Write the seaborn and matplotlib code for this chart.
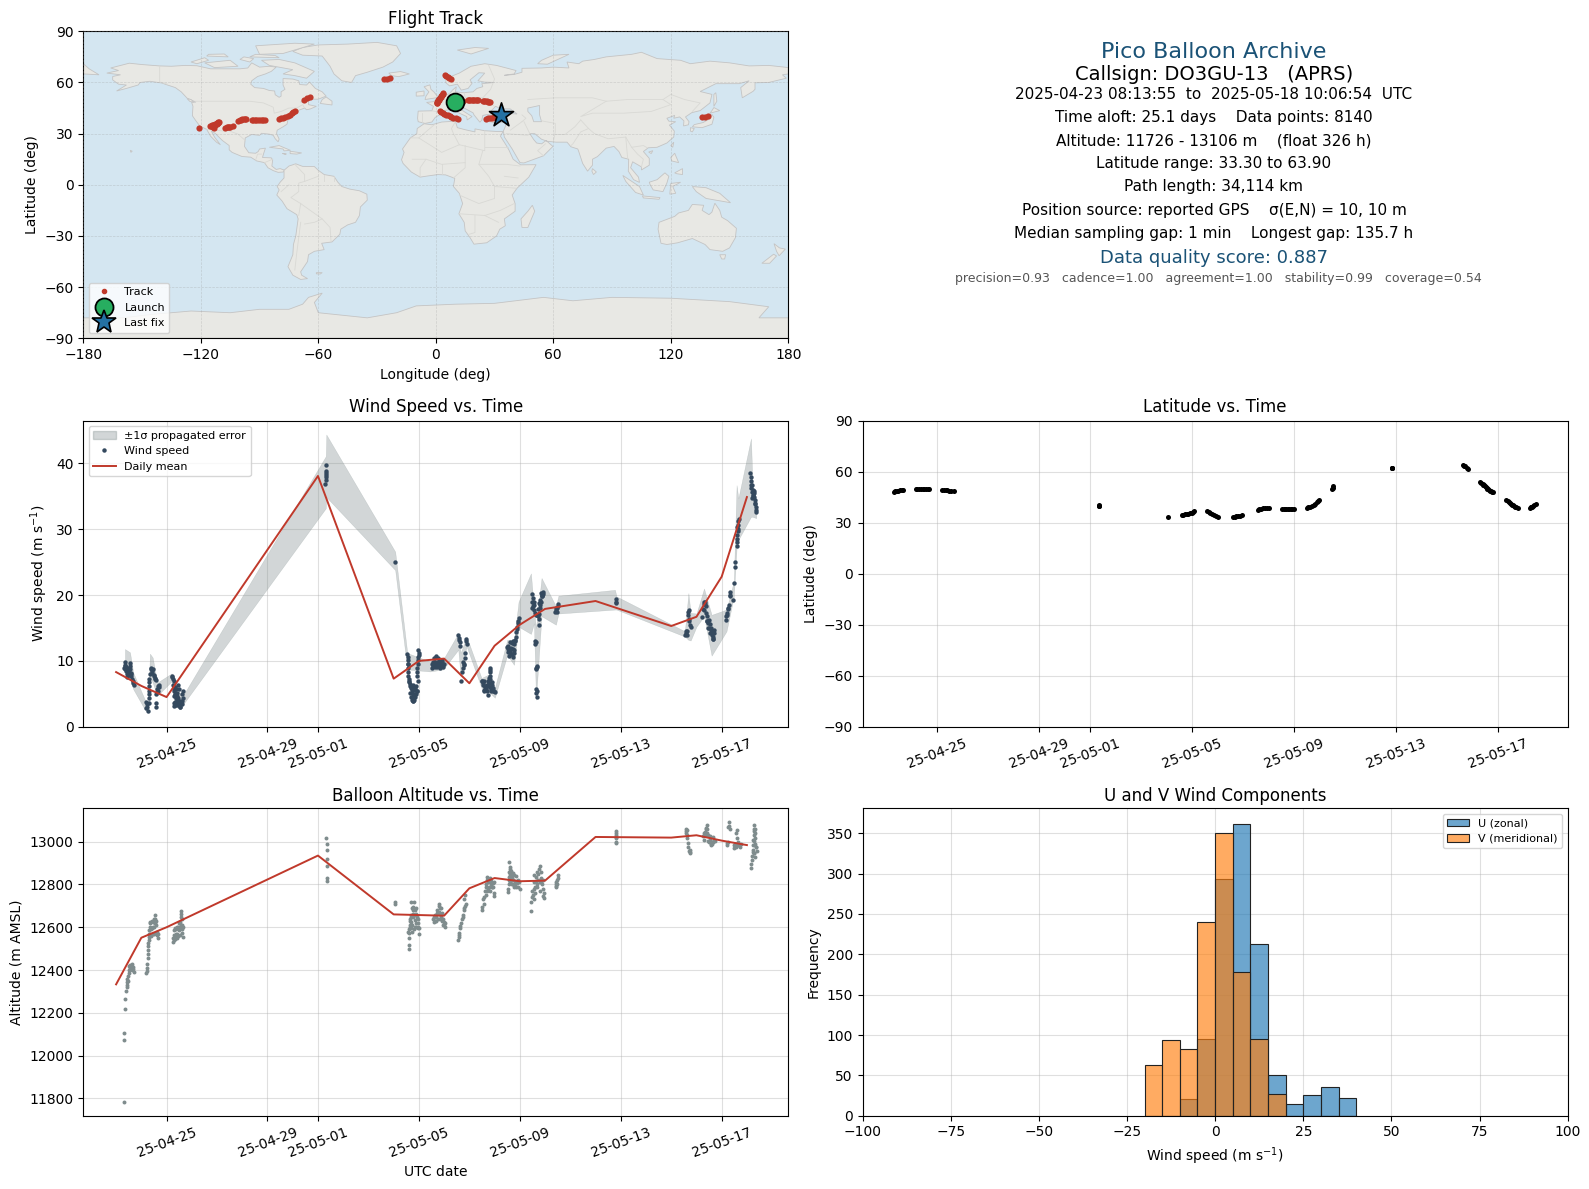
import numpy as np
import pandas as pd
import matplotlib
matplotlib.use("Agg")
import matplotlib.pyplot as plt
import matplotlib.dates as mdates
from matplotlib.lines import Line2D
from matplotlib.patches import Patch
import seaborn as sns

# ---------- data: times are days after 2025-04-23 00:00 UTC ----------
date_ticks = ["2025-04-25", "2025-04-29", "2025-05-01", "2025-05-05", "2025-05-09", "2025-05-13", "2025-05-17"]

wind_days = [.35,.32,.41,.39,.55,.52,.57,.48,.61,.65,.71,.36,.44,.50,.46,.58,
 1.21,1.18,1.25,1.30,1.30,1.30,1.30,1.37,1.41,1.47,1.50,1.54,1.58,1.71,1.64,1.60,1.58,1.67,1.69,
 2.20,2.24,2.26,2.33,2.40,2.46,2.29,2.40,2.46,2.30,2.50,2.60,2.66,2.66,2.60,2.35,2.28,2.37,2.44,2.52,2.31,2.34,2.55,
 8.31,8.31,8.31,8.31,8.29,8.32,8.30,11.06,
 11.54,11.58,11.58,11.58,11.62,11.65,11.71,11.78,11.84,11.75,11.88,11.71,11.81,11.88,11.94,11.94,11.98,11.98,12.02,11.66,11.74,11.82,11.76,11.92,11.96,11.60,11.56,
 12.57,12.67,12.77,12.83,12.96,12.73,12.50,12.90,12.62,12.70,12.86,12.60,12.93,12.80,
 13.56,13.60,13.63,13.87,13.89,13.83,13.76,13.80,13.72,13.67,
 14.52,14.61,14.71,14.82,14.82,14.79,14.88,14.94,15.01,14.68,14.55,14.58,14.65,14.75,14.72,14.85,14.90,
 15.50,15.57,15.66,15.75,15.68,15.77,15.84,15.90,15.96,15.94,15.54,15.60,15.63,15.71,15.80,15.72,
 16.50,16.53,16.47,16.56,16.79,16.73,16.90,16.86,16.69,16.77,16.77,16.62,16.62,16.69,16.64,16.66,16.66,16.70,16.88,16.83,16.52,16.76,
 17.43,17.53,17.46,17.48,
 19.80,19.80,19.83,
 22.68,22.72,22.77,22.58,22.64,22.62,22.70,
 23.30,23.29,23.37,23.23,23.43,23.47,23.56,23.64,23.71,23.33,23.40,23.50,23.52,23.60,23.67,
 24.17,24.22,24.28,24.33,24.46,24.50,24.52,24.54,24.59,24.62,24.59,24.66,24.20,24.25,24.31,24.60,24.64,
 25.14,25.16,25.18,25.24,25.22,25.31,25.35,25.37,25.20,25.26,25.28,25.33]
wind_ms = [9.9,8.9,9.1,8.4,9.7,8.9,8.7,7.9,7.7,6.9,6.4,9.4,7.6,8.2,8.7,8.2,
 3.4,2.9,2.4,3.6,4.9,6.2,7.3,8.9,8.4,8.7,7.9,7.4,7.1,6.3,5.7,5.0,3.6,5.4,6.0,
 7.7,7.3,6.4,5.7,5.1,6.4,4.6,4.1,3.6,3.1,3.4,3.4,4.4,5.4,3.9,4.8,5.5,3.5,4.4,3.9,3.6,6.0,3.0,
 39.7,38.9,38.2,37.5,36.9,37.9,38.5,25.1,
 11.1,10.2,8.9,7.7,6.9,6.2,5.6,6.4,5.6,4.9,4.9,4.1,4.1,6.2,7.7,8.9,10.2,11.7,10.9,5.1,6.2,5.0,3.9,5.4,7.0,7.3,9.5,
 9.2,10.7,10.4,9.2,9.4,9.7,8.9,9.9,9.8,9.0,9.5,9.5,10.2,10.0,
 13.9,13.2,12.3,13.4,12.6,11.2,9.9,9.4,8.3,7.0,
 6.9,6.2,5.4,8.9,7.7,6.6,6.4,5.9,5.2,6.4,6.3,5.6,5.9,6.9,4.8,5.4,6.8,
 12.1,11.4,11.0,11.2,12.7,12.5,13.7,15.2,16.5,16.0,11.3,12.9,11.8,13.0,13.0,10.6,
 20.2,19.5,18.0,18.5,18.5,17.9,20.5,19.8,17.0,16.3,15.5,13.0,12.5,9.3,8.7,5.8,5.1,4.5,20.0,19.0,19.0,17.2,
 17.8,18.3,17.5,18.0,
 19.4,18.8,19.0,
 17.5,16.0,15.2,14.2,14.0,14.6,17.8,
 19.0,17.8,18.3,16.7,16.8,15.7,14.7,13.7,14.3,18.6,16.0,15.0,15.6,14.2,13.4,
 16.2,17.3,18.5,20.4,19.2,21.9,24.2,25.1,27.5,29.1,30.4,31.2,16.9,17.9,20.0,28.5,30.0,
 38.5,37.4,36.2,35.7,34.7,34.4,33.4,32.7,36.8,35.0,35.8,34.0]
wind_days_dense = [.34,.37,.42,.45,.53,.56,.60,.63,.68,
 1.22,1.20,1.30,1.30,1.30,1.33,1.39,1.44,1.52,1.56,1.62,1.66,1.59,
 2.22,2.28,2.30,2.33,2.36,2.38,2.42,2.44,2.48,2.36,2.32,2.56,2.63,2.42,2.52,
 11.55,11.58,11.58,11.60,11.63,11.68,11.72,11.78,11.85,11.69,11.78,11.85,11.91,11.94,11.96,11.98,12.0,11.73,
 12.52,12.55,12.58,12.64,12.66,12.72,12.75,12.78,12.82,12.88,12.94,12.98,12.65,12.85,
 13.58,13.61,13.88,13.81,13.79,13.74,
 14.50,14.54,14.57,14.60,14.63,14.67,14.70,14.74,14.77,14.80,14.82,14.81,14.83,14.86,14.92,14.98,
 15.52,15.55,15.58,15.62,15.65,15.70,15.73,15.78,15.81,15.86,15.88,15.92,
 16.49,16.51,16.55,16.58,16.60,16.63,16.75,16.80,16.84,16.81,16.89,16.92,16.72,16.63,16.65,16.68,16.67,
 17.41,17.44,17.50,
 22.66,22.69,22.75,22.60,22.56,
 23.31,23.27,23.35,23.39,23.42,23.46,23.49,23.53,23.58,23.62,23.66,23.69,
 24.18,24.24,24.32,24.60,24.63,24.65,24.68,
 25.15,25.17,25.19,25.23,25.27,25.30,25.34,25.36,25.25]
wind_ms_dense = [9.3,8.7,8.5,8.0,8.3,9.2,8.0,7.3,6.6,
 3.0,3.8,4.3,5.5,6.8,8.0,8.7,8.1,7.7,7.2,5.3,6.2,3.0,
 7.5,6.9,5.8,5.0,4.3,5.8,4.7,3.3,5.8,3.3,3.8,3.6,4.9,3.4,3.0,
 10.6,9.5,8.3,6.8,6.5,5.9,5.1,4.5,4.5,4.5,3.9,5.9,5.5,8.3,9.5,10.6,11.2,6.1,
 9.5,9.9,10.4,10.5,9.3,9.2,9.9,9.6,9.9,9.6,9.1,9.6,9.0,8.9,
 13.5,12.8,13.0,10.5,9.6,8.9,
 7.0,6.6,6.9,5.5,6.0,5.6,6.2,6.3,7.4,8.3,8.6,7.2,6.0,5.8,5.5,5.4,
 11.8,12.2,10.8,11.5,12.0,11.0,11.8,11.7,13.1,14.4,14.9,15.8,
 19.0,18.3,19.0,17.8,17.3,17.0,18.8,19.3,20.3,18.0,19.9,20.2,16.8,12.8,8.9,9.0,5.5,
 17.5,18.1,18.6,
 17.0,16.4,15.5,14.5,14.0,
 18.6,17.9,19.0,17.3,16.0,15.0,16.2,14.2,15.0,14.0,13.4,14.7,
 16.8,18.0,19.8,28.0,29.7,30.7,31.5,
 38.0,36.8,35.6,35.2,34.9,35.5,33.8,33.0,36.0]

band_days = [.35,.55,.68,1.14,1.27,1.34,1.45,1.63,2.20,2.33,2.60,8.31,8.33,11.06,11.54,12.44,12.96,13.56,13.65,13.89,14.48,14.75,15.01,15.50,15.77,15.95,16.44,16.56,16.64,16.86,17.43,17.53,19.77,19.83,22.54,22.68,22.77,23.00,23.30,23.60,24.19,24.48,24.59,24.66,25.16,25.22,25.37]
band_lo = [8.2,7.2,5.7,2.6,2.1,7.7,6.7,4.7,6.9,2.9,3.1,33.2,34.9,23.8,8.7,8.4,8.7,11.7,7.7,12.2,5.9,5.4,4.4,10.9,9.4,15.2,14.1,15.7,4.1,16.8,15.5,17.2,17.8,17.8,13.7,13.2,13.1,15.2,16.8,10.8,14.5,19.8,27.1,28.4,31.9,31.9,31.7]
band_hi = [11.8,11.3,8.2,4.1,3.6,11.1,10.5,6.7,8.1,6.9,4.4,41.1,44.4,26.6,11.2,9.9,10.2,14.2,11.2,13.7,7.4,7.9,5.9,13.2,13.2,19.0,23.3,17.8,15.0,22.6,18.3,19.9,20.8,19.8,14.5,20.3,17.3,17.2,21.0,17.0,17.8,22.1,36.7,34.7,43.8,37.0,33.7]

mean_days = [0,1,2,8,11,12,13,14,15,16,17,19,22,23,24,25]
wind_mean = [8.3,6.2,4.5,38.1,7.3,10.0,10.35,6.6,12.3,15.5,17.9,19.1,15.3,16.7,22.8,34.9]
alt_mean = [12333,12551,12600,12935,12660,12657,12654,12782,12830,12815,12818,13022,13019,13030,13005,12984]

track_days = [.32,.38,.44,.50,.56,.63,.70,
 1.19,1.25,1.32,1.39,1.46,1.52,1.58,1.65,1.72,
 2.23,2.29,2.35,2.42,2.49,2.58,2.67,
 8.37,8.37,8.37,11.09,
 11.61,11.67,11.73,11.80,11.86,11.93,12.0,12.04,12.08,
 12.61,12.67,12.73,12.80,12.87,12.96,13.05,
 13.61,13.68,13.75,13.82,13.89,13.96,
 14.59,14.65,14.71,14.80,14.89,14.96,15.03,
 15.55,15.60,15.66,15.71,15.76,15.82,15.89,15.95,16.02,
 16.51,16.57,16.64,16.71,16.78,16.84,16.9,16.95,17.0,
 17.51,17.53,17.55,19.87,19.87,19.87,
 22.64,22.69,22.73,22.78,22.82,
 23.32,23.36,23.40,23.43,23.46,23.49,23.52,23.56,23.59,23.63,23.66,23.69,23.72,23.76,23.81,
 24.34,24.38,24.43,24.47,24.52,24.56,24.6,24.64,24.69,24.73,24.78,
 25.25,25.29,25.32,25.36,25.39,25.43,25.48]
track_lat = [48.2,48.4,48.6,48.8,49.0,49.2,49.4,
 50.0,50.0,50.0,50.0,50.0,50.0,50.0,50.0,50.0,
 49.4,49.3,49.2,49.0,48.8,48.8,48.8,
 39.6,40.0,40.4,33.5,
 34.3,34.6,34.9,35.1,35.3,35.6,35.9,36.3,36.7,
 36.7,36.1,35.5,34.9,34.3,33.8,33.3,
 33.5,33.6,33.7,33.9,34.1,34.7,
 37.6,37.9,38.2,38.5,38.8,38.8,38.8,
 38.2,38.2,38.2,38.2,38.2,38.2,38.2,38.2,38.2,
 38.8,39.0,39.2,39.7,40.2,41.2,42.2,42.6,43.1,
 50.0,50.7,51.4,62.0,62.3,62.4,
 64.1,63.6,63.1,62.4,61.8,
 53.9,53.4,52.9,52.4,52.0,51.5,51.0,50.5,50.0,49.6,49.2,48.9,48.6,48.2,47.8,
 43.5,42.9,42.2,41.7,41.2,40.7,40.2,39.8,39.4,39.0,38.6,
 38.8,39.0,39.2,39.4,39.6,40.2,40.8]
track_lon = [10.0,10.6,11.2,11.8,12.5,13.2,14.0,
 16.3,17.0,17.6,18.3,19.0,19.6,20.3,21.0,21.7,
 24.3,24.8,25.2,25.9,26.5,27.1,27.7,
 135.8,137.4,139.0,-120.9,
 -115.5,-115.0,-114.5,-113.8,-113.0,-112.2,-111.5,-111.0,-110.5,
 -111.0,-111.7,-112.5,-113.2,-114.0,-114.0,-113.5,
 -107.6,-106.8,-106.0,-105.5,-105.0,-103.7,
 -100.8,-100.1,-99.5,-98.8,-98.0,-97.4,-96.9,
 -94.0,-93.3,-92.5,-91.8,-91.0,-90.0,-89.0,-88.0,-87.2,
 -79.9,-79.0,-78.0,-76.8,-75.5,-74.5,-73.5,-72.7,-71.9,
 -67.1,-65.6,-64.2,-26.4,-25.0,-23.5,
 4.7,5.3,6.0,6.8,7.6,
 3.9,3.6,3.3,3.0,2.7,2.4,2.0,1.7,1.5,1.3,1.1,0.9,0.8,0.6,0.5,
 2.2,2.8,3.5,4.2,5.0,6.0,7.0,8.0,9.0,10.2,11.5,
 25.7,26.6,27.5,28.5,29.5,31.5,33.5]
launch_lon, launch_lat = [10.0], [48.4]
last_lon, last_lat = [33.5], [40.9]

alt_days = [.32,.32,.32,.37,.37,.41,.42,.44,.48,.51,.55,.57,.62,.65,.69,
 1.20,1.22,1.26,1.27,1.27,1.31,1.31,1.36,1.40,1.43,1.49,1.54,1.58,1.61,1.68,1.38,1.45,1.52,1.56,
 2.25,2.28,2.32,2.37,2.42,2.50,2.55,2.58,2.60,2.67,2.35,2.45,2.53,2.63,2.30,
 8.30,8.34,8.34,8.34,8.34,8.34,8.34,11.06,11.06,
 11.59,11.59,11.59,11.58,11.63,11.70,11.70,11.75,11.70,11.81,11.88,11.93,11.98,12.02,11.84,11.63,11.66,11.78,11.90,11.80,11.95,
 12.55,12.64,12.73,12.81,12.87,12.90,12.94,12.99,13.04,12.67,12.78,12.84,12.60,
 13.56,13.58,13.61,13.66,13.75,13.79,13.86,13.82,
 14.51,14.58,14.64,14.67,14.71,14.78,14.85,14.94,14.99,14.99,14.74,14.82,14.90,
 15.52,15.56,15.59,15.59,15.65,15.70,15.77,15.82,15.91,16.0,15.62,15.68,15.75,15.60,15.86,
 16.46,16.46,16.53,16.58,16.58,16.65,16.73,16.80,16.83,16.88,16.94,16.94,16.62,16.70,16.78,
 17.42,17.45,17.50,17.52,
 19.81,19.81,19.81,19.81,
 22.60,22.60,22.64,22.67,22.73,22.76,
 23.26,23.35,23.40,23.43,23.52,23.56,23.61,23.70,23.38,23.47,23.58,
 24.28,24.32,24.23,24.50,24.62,24.62,24.73,24.60,24.55,
 25.17,25.20,25.26,25.29,25.29,25.32,25.38,25.32,25.26,25.30,25.35,25.28]
alt_m = [11785,12075,12105,12220,12265,12300,12320,12345,12370,12385,12425,12410,12430,12415,12390,
 12385,12410,12455,12495,12525,12555,12585,12620,12565,12595,12625,12655,12610,12580,12550,12590,12570,12600,12640,
 12530,12565,12595,12570,12600,12585,12625,12675,12640,12555,12545,12560,12600,12610,12540,
 13015,12990,12960,12920,12885,12830,12815,12720,12710,
 12500,12515,12550,12580,12600,12625,12655,12680,12720,12720,12690,12650,12620,12570,12635,12640,12610,12660,12600,12590,12640,
 12640,12655,12680,12710,12690,12665,12640,12625,12600,12630,12660,12640,12650,
 12540,12565,12595,12620,12655,12690,12710,12750,
 12680,12710,12750,12790,12835,12815,12800,12805,12760,12745,12780,12770,12790,
 12765,12800,12835,12905,12865,12830,12845,12815,12820,12780,12870,12800,12790,12850,12790,
 12675,12720,12750,12780,12845,12815,12850,12885,12830,12800,12760,12735,12790,12800,12810,
 12795,12810,12830,12845,
 13050,13030,13015,12995,
 13060,13040,13015,12975,12945,12960,
 13025,13045,13080,13040,13025,12985,13000,13010,13060,13005,12990,
 13090,13060,12985,12970,13055,13015,12975,12985,12975,
 12875,12915,12960,13080,13030,12990,12955,12930,13010,13060,12975,12945]
alt_days_dense = [.45,.47,.43,.50,.53,.60,.64,.67,
 1.21,1.24,1.26,1.27,1.29,1.30,1.33,1.35,1.38,1.42,1.47,1.50,1.52,1.55,1.57,1.60,1.63,1.66,1.34,1.45,
 2.26,2.30,2.33,2.38,2.41,2.44,2.48,2.52,2.56,2.58,2.60,2.62,2.65,2.57,2.42,
 11.60,11.62,11.65,11.68,11.72,11.74,11.76,11.78,11.82,11.85,11.87,11.90,11.95,11.96,12.0,11.72,11.68,11.86,
 12.58,12.62,12.66,12.70,12.75,12.78,12.80,12.83,12.86,12.92,12.96,13.0,13.02,
 13.57,13.60,13.63,13.70,13.73,13.77,13.80,13.84,
 14.52,14.55,14.60,14.62,14.65,14.69,14.72,14.76,14.80,14.84,14.88,14.92,14.96,14.70,
 15.54,15.57,15.60,15.61,15.63,15.66,15.68,15.72,15.74,15.79,15.84,15.88,15.93,15.97,15.58,
 16.48,16.50,16.55,16.57,16.60,16.63,16.67,16.70,16.74,16.76,16.79,16.82,16.85,16.90,16.92,16.93,
 17.43,17.47,17.49,17.44,
 19.80,19.82,19.80,
 22.58,22.62,22.61,22.65,22.70,22.74,
 23.28,23.30,23.33,23.37,23.42,23.45,23.50,23.54,23.60,23.66,23.72,23.64,
 24.25,24.27,24.30,24.22,24.48,24.52,24.58,24.64,24.66,24.70,24.75,
 25.18,25.22,25.24,25.27,25.28,25.31,25.33,25.36,25.30,25.25,25.34]
alt_m_dense = [12360,12350,12330,12400,12420,12420,12400,12405,
 12395,12430,12475,12510,12540,12570,12600,12570,12560,12630,12600,12570,12640,12620,12575,12630,12565,12570,12625,12625,
 12550,12585,12560,12590,12550,12600,12620,12565,12650,12610,12590,12575,12600,12660,12570,
 12590,12575,12630,12650,12690,12610,12650,12695,12655,12680,12620,12660,12595,12600,12595,12580,12595,12600,
 12625,12630,12650,12665,12640,12700,12670,12690,12650,12630,12610,12610,12620,
 12555,12575,12605,12640,12650,12680,12730,12700,
 12695,12730,12740,12770,12800,12820,12810,12790,12830,12815,12790,12790,12810,12770,
 12780,12820,12880,12840,12810,12840,12800,12855,12820,12800,12840,12805,12790,12810,12860,
 12740,12770,12730,12810,12760,12835,12790,12860,12820,12870,12770,12860,12810,12780,12820,12745,
 12800,12820,12800,12790,
 13040,13020,13000,
 13050,13030,13055,12995,12955,12950,
 13010,13040,13030,13065,13060,13030,13000,13010,12990,13000,13005,13020,
 13000,13070,13075,12995,12985,12990,13040,13000,12985,12985,12990,
 12895,12935,12985,13050,13005,13060,13015,12975,12945,12950,13040]

bin_edges = [-20,-15,-10,-5,0,5,10,15,20,25,30,35,40]
u_counts = [0,0,21,95,293,362,213,51,14,26,36,22]
v_counts = [63,94,83,240,350,178,95,27,0,0,0,0]

# ---------- land outlines (lon, lat) ----------
land_polys = [
 [(-168,65.5),(-164,66.5),(-162,67),(-166,68.5),(-156.5,71.3),(-150,70.5),(-141,69.7),(-135,69.5),(-128,70),(-122,69.8),(-115,68),(-108,68),(-100,68),(-96,68.5),(-94,71.5),(-90,69),(-85,69.5),(-81.5,69),(-84,66.5),(-87,65),(-91,63.5),(-94,61),(-94.5,59),(-92.5,57),(-88,56.5),(-85,55.3),(-82.3,55),(-82,52.8),(-80,51.3),(-79,52),(-79,54.5),(-77,56),(-78,58.5),(-78,62.3),(-73,62),(-70,61),(-69.5,58.8),(-66,58.5),(-64.5,60.3),(-61.5,56.5),(-58,54.5),(-56,52),(-60,50.2),(-66,50.2),(-69,48.5),(-65,49),(-65,47),(-61,46),(-64,44.5),(-66,44),(-67,45),(-70,43.7),(-70.5,42),(-74,40.6),(-75.5,38),(-76,35.5),(-78,34),(-81,32),(-81.3,30),(-80,26.8),(-80.5,25.2),(-82,27),(-83,29),(-85,29.7),(-89,30.2),(-90,29),(-94,29.5),(-97.3,27.5),(-97.7,22.5),(-95.5,18.8),(-92,18.5),(-90.7,19.5),(-90,21),(-87,21.5),(-88,18),(-88.5,16),(-84,15.8),(-83.3,14.5),(-83.7,11),(-81.5,9),(-79.5,9.5),(-77.3,8.6),(-77.8,7.5),(-80.5,7.3),(-83,8.3),(-85.7,10),(-87.5,13),(-91.5,14),(-94.5,16.2),(-99,16.6),(-104,19),(-105.5,20.5),(-105.5,23),(-109,26),(-112.5,30),(-114.7,31.7),(-113,28),(-110,23.5),(-112,25),(-115,28.5),(-117,32.5),(-120.5,34.5),(-122.5,37.5),(-124.3,40.5),(-124,46),(-124.7,48.4),(-122.5,48.5),(-127,50.8),(-130,54.5),(-133,57),(-137,58.5),(-140,59.7),(-146,60.7),(-151,60),(-152,58.5),(-158,56.5),(-163,55),(-158,58.5),(-162,59),(-165,61.5),(-165,63.5),(-161,64.5)],
 [(-73,78.2),(-68,80.5),(-60,82),(-45,82.5),(-30,83.5),(-20,81.5),(-18,77),(-22,72),(-27,69),(-35,66),(-41,64),(-43,60),(-48,61),(-52,65),(-54,69.5),(-58,75.5),(-68,76)],
 [(-80,73.5),(-72,71.5),(-67,69),(-62,66.5),(-66,62.5),(-72,64),(-78,65),(-73,67.5),(-85,70),(-89,73)],
 [(-118,71.5),(-105,73),(-101,69.5),(-113,68.7)],
 [(-125,72),(-118,74.5),(-116,73),(-122,71)],
 [(-90,76.5),(-78,77),(-62,82.5),(-72,83),(-92,81.5)],
 [(-95,75),(-80,74.5),(-82,75.8),(-92,76.5)],
 [(-117,75.5),(-106,75),(-108,76.7),(-116,76.5)],
 [(-100,73.5),(-95,72),(-93,74),(-98,75)],
 [(-59,47.7),(-53,46.8),(-53,49),(-56,51.5),(-58,50)],
 [(-85,22),(-80,23),(-74.2,20.2),(-77.5,19.9),(-78,21)],
 [(-74.4,19.7),(-68.5,18.7),(-71,18),(-74.4,18.3)],
 [(-78.3,18.4),(-76.3,18.1),(-77,17.8)],
 [(-156,20.2),(-155,19.7),(-155.7,19)],
 [(-127,50.5),(-125,50),(-123.5,48.5),(-125.5,48.8)],
 [(-61,-51.5),(-58,-51.5),(-59,-52.3),(-61,-52.2)],
 [(-77.5,8.5),(-75,11),(-71.5,12.3),(-68,10.8),(-62,10.7),(-60,8.5),(-57,6),(-52,5),(-50,1.5),(-48,-1),(-44,-2.5),(-39,-3.5),(-35.2,-5.5),(-35,-9),(-38.5,-13),(-39,-18),(-41,-22),(-45,-23.5),(-48.5,-26),(-49,-29),(-53,-33.5),(-58.3,-34.3),(-57,-38),(-62,-39),(-65,-41),(-65.5,-45),(-69,-51),(-68.5,-53),(-65.5,-55),(-69,-55.5),(-73,-53),(-75.5,-48),(-73,-41),(-72.7,-35),(-71.5,-30),(-70.3,-20),(-71,-17.5),(-76,-14),(-78.5,-9.5),(-81.2,-6),(-80,-3),(-81,-1),(-79.5,1.5),(-77.5,4),(-77.5,7)],
 [(-6,35.8),(-2,35.2),(3,36.8),(10,37.3),(11,33.5),(15,32.3),(20,31),(20,32.8),(25,31.7),(32,31.2),(34.3,31.2),(33,28.5),(35.5,24),(37.3,20.5),(39.5,15),(43.3,11.7),(51.2,11.8),(47.5,4.5),(41.5,-2),(39,-6),(40.5,-11),(40.5,-15.5),(35,-20),(35.5,-24),(32.7,-26),(31,-30),(26,-34),(19.5,-34.8),(17.5,-31),(15,-27),(14.5,-22),(11.8,-17),(13.7,-11),(12,-5),(9,-1),(9.7,3.8),(5,5.8),(1,6),(-4,5.2),(-8,4.5),(-12.5,7.5),(-16.7,12.5),(-17.5,14.7),(-16.2,19),(-17,21),(-13,27.5),(-9.7,30),(-9.5,33)],
 [(-9,37),(-9.3,39),(-9,43.2),(-2,43.4),(-1.2,46),(-4.7,48.3),(-1.5,48.7),(1.5,50.5),(4,52),(7,53.5),(8.5,55.5),(10.5,57.5),(10,54.5),(14,54),(19,54.5),(21,56.5),(24,57.5),(23.5,59.3),(30,60),(25,60.2),(21.5,61),(25,65.5),(22,65.7),(17.5,61.5),(18.5,59.5),(16.5,56.5),(13,55.5),(11,59),(7,58),(5,60),(5.5,62.5),(12,65.5),(18,69.5),(25,71),(31,70),(41,67),(40,65),(35,64.2),(40,64.7),(44,66),(44,68.3),(54,68.5),(60,69),(68,68.5),(67,72),(73,71),(75,72.5),(81,73.5),(87,75),(100,76.5),(105,77.7),(113,74),(125,73),(130,71),(140,72.5),(150,71.5),(160,69.7),(170,70),(178,69),(180,68.7),(180,65),(177,64.5),(179,62.5),(170,60),(163,59.8),(163,56),(162,54.8),(156.5,51),(155.7,57),(160,61),(155,59.3),(143,59.3),(135,54.7),(141,53),(140,48),(135,43.5),(130.7,42.3),(127.5,39.8),(129.3,37),(129,35.2),(126.5,34.5),(126.7,37.5),(124.5,39.8),(121.5,39),(122,40.7),(118,39),(119,37.3),(122.5,37),(119.3,35),(121.8,31.5),(121.5,28),(118,24.5),(113,22),(108.5,21.7),(106,19.5),(109,15.5),(109,11.5),(105,8.7),(105,10.5),(100.5,13.5),(99.5,10),(103.5,4.5),(104,1.4),(101,3),(98.3,8),(98.5,15),(95,16),(93.5,19.5),(91,22.5),(87,21.5),(82.5,16.5),(80,15),(80,11.5),(77.5,8),(75,12.5),(73,19.5),(72.5,21),(69,22.3),(67,25),(61.5,25),(57,25.5),(54,26.7),(50.5,30),(48,30),(50,26.5),(51.5,24.5),(54,24),(56.3,26),(59.8,22.5),(55,17),(45,12.8),(43,13),(39,21),(35,28),(34.5,31.5),(36,35.5),(36,36.7),(30.5,36.3),(27.5,37),(26.5,39.5),(29,41),(35,42),(41.5,41.5),(38,44.5),(33.5,44.5),(30.5,46),(28,43),(28,41.5),(24,40.7),(23.5,38),(22.5,36.7),(19.5,41),(19,42.2),(13.7,45.5),(12.3,44.5),(16,41.8),(18.5,40),(16,38),(15.8,40),(12,42),(8.8,44.4),(4,43.5),(3,41.8),(-0.3,39.5),(-2,36.8),(-5.5,36)],
 [(-5.5,50),(1.3,51.2),(-1,54.5),(-2.5,56),(-3,58.6),(-6,57.5),(-3.5,54.5),(-5,52)],
 [(-10,52),(-6,52.2),(-6,55),(-10,54.3)],
 [(-24,65.5),(-18,66.4),(-13.5,65),(-19,63.4),(-22.5,64)],
 [(11,79),(20,80.5),(27,80),(18,76.7)],
 [(52,71),(57,70.7),(68,76.5),(60,76),(54,73)],
 [(142,46),(143.5,49),(143,54),(142,53)],
 [(140,42),(145,43.5),(142,45.3),(141,43.5)],
 [(131,34),(136,33.5),(141,35.5),(142,39.5),(141,41.3),(139.5,38.5),(136.5,36.5),(132,35.3)],
 [(130,33.5),(132,33),(131,31),(130,31.5)],
 [(120,23),(121.5,25),(121,22)],
 [(108.7,19.2),(110.8,20),(110,18.3)],
 [(80,9.5),(82,7.5),(80.5,6),(79.7,8)],
 [(95.5,5.5),(104,-1),(106,-6),(102,-4.5),(97,2)],
 [(105.5,-6.5),(114.5,-7.5),(114,-8.5),(106,-7.7)],
 [(109,1.5),(113,3),(117,7),(119,5),(118,1),(116,-4),(111,-3),(109.5,0)],
 [(119.5,-5.5),(120,0.8),(125,1.5),(121,-1),(122.5,-5)],
 [(120,16),(122,18.5),(124,13),(120.5,14)],
 [(122,7),(126,9.5),(126,6),(123,6.5)],
 [(131,-1),(138,-1.7),(145,-5),(150.5,-10.5),(143,-9),(138,-8),(133,-4)],
 [(114,-22),(113.5,-26),(115,-34.3),(118,-35),(123.5,-34),(131,-31.5),(137.5,-35),(140,-38),(146.5,-39),(150,-37),(153,-31),(153.5,-25.5),(149,-21),(146,-19),(145,-15),(142.5,-10.8),(141,-16),(139.5,-17.5),(136,-15),(136.8,-12),(131,-11.5),(129,-15),(124,-16.5),(122,-18.5)],
 [(145,-41),(148,-41),(147.5,-43.5),(146,-43.5)],
 [(172.7,-34.5),(175.5,-37),(178.5,-37.7),(175.3,-41.6),(174,-39)],
 [(172.5,-40.7),(174,-41.7),(170.5,-46),(166.5,-46)],
 [(49.3,-12),(50.5,-15.5),(47,-25),(44,-25),(43.5,-20),(47,-15.5)],
 [(-180,-90),(180,-90),(180,-78),(165,-78),(170,-71.5),(150,-68.5),(120,-66.5),(90,-66),(70,-68),(55,-66),(30,-69.5),(10,-70),(-10,-71),(-20,-75),(-35,-78),(-60,-75),(-62,-69),(-58,-63.5),(-65,-66),(-68,-70),(-75,-73),(-90,-73),(-105,-75),(-125,-74),(-145,-76),(-160,-78),(-180,-78)],
 [(-180,71),(-177,68),(-172,64.5),(-180,65)],
]
caspian = [(47,45),(53,46.5),(53,41),(54,37),(50,37),(49,40.5),(47,43)]
border_lines = [
 [(-123,49),(-95,49),(-88,48),(-83,45.5),(-82.5,42),(-79,43),(-75,45),(-71,45),(-68,47),(-67,45)],
 [(-117,32.5),(-108,31.5),(-106,31.8),(-101,29.7),(-97.3,26)],
 [(-141,69.7),(-141,60.3),(-137,59)],
 [(-92,14.5),(-91,18),(-89,18)],[(-83.3,15),(-87.5,13)],
 [(-70,-18),(-69,-11),(-74,-7.5),(-70,-4),(-70,1),(-67,2),(-60,5)],
 [(-69,-11),(-58,-20),(-54,-25),(-53.5,-33)],
 [(-69,-22),(-71,-40),(-72,-50)],[(-58,-20),(-62,-22),(-67,-23)],
 [(-75,0),(-79,-4)],[(-72,12),(-67,6),(-67,2)],[(-57,2),(-57,6)],[(-52,2),(-52,5)],
 [(-13,27.5),(-8.7,27.5),(3,19),(12,23.5),(25,20),(25,31.7)],[(25,22),(37,22)],
 [(10,37),(8,33),(9,30),(12,23.5)],[(15,23),(15,10),(9,4)],[(3,12),(3,6.5)],
 [(24,20),(22,12),(27,5),(30,-1),(30,-8),(22,-11),(12,-6)],[(30,-1),(41,-2)],[(35,5),(42,4)],
 [(12,-17),(25,-18),(33,-15),(40,-11)],[(20,-18),(20,-28),(17,-29)],[(25,-18),(32,-22)],
 [(-12,15),(-5,15),(3,12),(15,13)],[(-8,4.5),(-8,10),(-5,15)],[(22,12),(36,12),(43,11)],[(-1,35),(-8.7,27.5)],
 [(27,70),(30,62),(28,56),(24,51),(30,46)],
 [(47,50),(61,51),(80,51),(87,49),(98,50),(116,50),(120,53),(127,50),(135,48),(131,43)],
 [(87,49),(74,40),(80,42),(96,42),(110,43),(120,47),(116,50)],
 [(74,38),(78,33),(81,30),(88,27),(97,28),(100,22),(106,23),(108,21.7)],
 [(60,25),(61,31),(61,36),(54,37.5)],[(74,38),(71,34),(66,29.5),(61,29.5)],
 [(78,33),(74,31),(70,24),(69,23)],[(36,30),(47,29),(48,30)],[(44,37),(46,39),(44,41)],
 [(-2,43.4),(3,42.3)],[(3,50.5),(8,49),(7.5,44)],[(6,51),(7,53.5)],[(14.5,54),(15,51),(24,51)],
 [(-7,42),(-7,37)],[(97,28),(98,15)],[(100,22),(103,18),(106,15),(105,10.5)],
 [(38,32),(44,37)],[(45,37),(48,30)],[(55,17),(52,20),(56,24)],[(28,41.5),(35,37)],
]

# ---------- figure ----------
W, H = 1589, 1189
def place(l, t, r, b):
    return [l / W, 1 - b / H, (r - l) / W, (b - t) / H]

fig = plt.figure(figsize=(W / 100, H / 100), dpi=100, facecolor="white")
ax_map = fig.add_axes(place(83.3, 31.3, 788.3, 338.3))
ax_txt = fig.add_axes(place(862.5, 31.3, 1567.7, 338.3))
ax_wind = fig.add_axes(place(83.3, 420.7, 788.3, 726.7))
ax_lat = fig.add_axes(place(862.5, 420.7, 1567.7, 726.7))
ax_alt = fig.add_axes(place(83.3, 808.3, 788.3, 1115.7))
ax_hist = fig.add_axes(place(862.5, 808.3, 1567.7, 1115.7))

RED = "#c0392b"
NAVY = "#34495e"
GREY = "#7f8c8d"
TITLE_BLUE = "#1a5276"
epoch = pd.Timestamp("2025-04-23")
def to_dates(days):
    return epoch + pd.to_timedelta(np.asarray(days, dtype=float), unit="D")
def date_axis(ax, lo, hi):
    ax.set_xlim(mdates.date2num(to_dates([lo])[0]), mdates.date2num(to_dates([hi])[0]))
    ax.set_xticks(mdates.date2num(pd.to_datetime(date_ticks)))
    ax.xaxis.set_major_formatter(mdates.DateFormatter("%y-%m-%d"))
    ax.tick_params(axis="x", labelrotation=20)
    ax.grid(True, color="#b0b0b0", lw=0.8, alpha=0.4)
    ax.set_xlabel("")

# map
ax_map.set_facecolor("#d4e6f1")
for poly in land_polys:
    lon, lat = zip(*poly)
    ax_map.fill(lon, lat, facecolor="#e8e8e4", edgecolor="#c4c4c4", lw=0.6, zorder=1)
lon, lat = zip(*caspian)
ax_map.fill(lon, lat, facecolor="#d4e6f1", edgecolor="#c4c4c4", lw=0.6, zorder=1.1)
for line in border_lines:
    lon, lat = zip(*line)
    ax_map.plot(lon, lat, color="#d9d9d5", lw=0.6, zorder=1.2)
ax_map.grid(True, color="#9a9a9a", lw=0.5, ls="--", alpha=0.35, zorder=1.5)
ax_map.set_axisbelow(False)
sns.scatterplot(x=track_lon, y=track_lat, ax=ax_map, color=RED, s=20, linewidth=0, zorder=3, legend=False)
sns.scatterplot(x=launch_lon, y=launch_lat, ax=ax_map, color="#27ae60", s=165, edgecolor="black", linewidth=1.3, zorder=4, legend=False)
sns.scatterplot(x=last_lon, y=last_lat, ax=ax_map, color="#2471a3", marker="*", s=330, edgecolor="black", linewidth=1.2, zorder=5, legend=False)
ax_map.set_xlim(-180, 180); ax_map.set_ylim(-90, 90)
ax_map.set_xticks(range(-180, 181, 60)); ax_map.set_yticks(range(-90, 91, 30))
ax_map.set_xlabel("Longitude (deg)"); ax_map.set_ylabel("Latitude (deg)")
ax_map.set_title("Flight Track", pad=5)
map_handles = [
    Line2D([], [], ls="none", marker="o", ms=3, color=RED, label="Track"),
    Line2D([], [], ls="none", marker="o", ms=13, mfc="#27ae60", mec="black", mew=1.3, label="Launch"),
    Line2D([], [], ls="none", marker="*", ms=18, mfc="#2471a3", mec="black", mew=1.2, label="Last fix"),
]
ax_map.legend(handles=map_handles, loc="lower left", fontsize=8, framealpha=0.8, handlelength=2)

# info text
ax_txt.axis("off")
ax_txt.set_xlim(862.5, 1567.7); ax_txt.set_ylim(338.3, 31.3)
info_lines = [
 ("Pico Balloon Archive", 16, TITLE_BLUE, 51.7, 1214),
 ("Callsign: DO3GU-13   (APRS)", 14, "black", 74, 1214),
 ("2025-04-23 08:13:55  to  2025-05-18 10:06:54  UTC", 11, "black", 94.5, 1214),
 ("Time aloft: 25.1 days    Data points: 8140", 11, "black", 117.8, 1214),
 ("Altitude: 11726 - 13106 m    (float 326 h)", 11, "black", 140.5, 1214),
 ("Latitude range: 33.30 to 63.90", 11, "black", 163.5, 1214),
 ("Path length: 34,114 km", 11, "black", 186.8, 1214),
 ("Position source: reported GPS    σ(E,N) = 10, 10 m", 11, "black", 210, 1214),
 ("Median sampling gap: 1 min    Longest gap: 135.7 h", 11, "black", 233, 1214),
 ("Data quality score: 0.887", 13, TITLE_BLUE, 258, 1214),
 ("precision=0.93   cadence=1.00   agreement=1.00   stability=0.99   coverage=0.54", 9, "#555555", 278.3, 1218),
]
for s, fs, c, y, x in info_lines:
    ax_txt.text(x, y, s, fontsize=fs, color=c, ha="center", va="center")

# wind
ax_wind.fill_between(to_dates(band_days), band_lo, band_hi, color=GREY, alpha=0.35, lw=0.3, zorder=2)
sns.scatterplot(x=to_dates(list(wind_days) + list(wind_days_dense)), y=list(wind_ms) + list(wind_ms_dense),
                ax=ax_wind, color=NAVY, s=10, linewidth=0, zorder=3, legend=False)
sns.lineplot(x=to_dates(mean_days), y=wind_mean, ax=ax_wind, color=RED, lw=1.4, zorder=4, legend=False, errorbar=None)
date_axis(ax_wind, -1.30, 26.64)
ax_wind.set_ylim(0, 46.5)
ax_wind.set_yticks([0, 10, 20, 30, 40])
ax_wind.set_ylabel(r"Wind speed (m s$^{-1}$)")
ax_wind.set_title("Wind Speed vs. Time")
wind_handles = [
    Patch(facecolor=GREY, alpha=0.35, edgecolor=GREY, label="±1σ propagated error"),
    Line2D([], [], ls="none", marker="o", ms=2.2, color=NAVY, label="Wind speed"),
    Line2D([], [], color=RED, lw=1.4, label="Daily mean"),
]
ax_wind.legend(handles=wind_handles, loc="upper left", fontsize=8, framealpha=0.8)

# latitude
sns.scatterplot(x=to_dates(track_days), y=track_lat, ax=ax_lat, color="black", s=13, linewidth=0, zorder=3, legend=False)
date_axis(ax_lat, -0.906, 26.74)
ax_lat.set_ylim(-90, 90)
ax_lat.set_yticks(range(-90, 91, 30))
ax_lat.set_ylabel("Latitude (deg)")
ax_lat.set_title("Latitude vs. Time")

# altitude
sns.scatterplot(x=to_dates(list(alt_days) + list(alt_days_dense)), y=list(alt_m) + list(alt_m_dense),
                ax=ax_alt, color=GREY, s=8, linewidth=0, zorder=3, legend=False)
sns.lineplot(x=to_dates(mean_days), y=alt_mean, ax=ax_alt, color=RED, lw=1.4, zorder=4, legend=False, errorbar=None)
date_axis(ax_alt, -1.30, 26.64)
ax_alt.set_ylim(11719, 13156)
ax_alt.set_yticks(range(11800, 13001, 200))
ax_alt.set_xlabel("UTC date"); ax_alt.set_ylabel("Altitude (m AMSL)")
ax_alt.set_title("Balloon Altitude vs. Time", pad=5)

# histogram
centers = (np.array(bin_edges[:-1]) + np.array(bin_edges[1:])) / 2
sns.histplot(x=centers, weights=u_counts, bins=bin_edges, ax=ax_hist, color="tab:blue", alpha=0.65, edgecolor="#222222", linewidth=0.8, zorder=2, label="U (zonal)")
sns.histplot(x=centers, weights=v_counts, bins=bin_edges, ax=ax_hist, color="tab:orange", alpha=0.65, edgecolor="#222222", linewidth=0.8, zorder=2.1, label="V (meridional)")
ax_hist.set_xlim(-100, 100)
ax_hist.set_ylim(0, 381)
ax_hist.set_xticks(range(-100, 101, 25))
ax_hist.grid(True, color="#b0b0b0", lw=0.8, alpha=0.4)
ax_hist.set_xlabel(r"Wind speed (m s$^{-1}$)"); ax_hist.set_ylabel("Frequency")
ax_hist.set_title("U and V Wind Components", pad=5)
ax_hist.legend(loc="upper right", fontsize=8)

fig.savefig("out.png", dpi=100)
